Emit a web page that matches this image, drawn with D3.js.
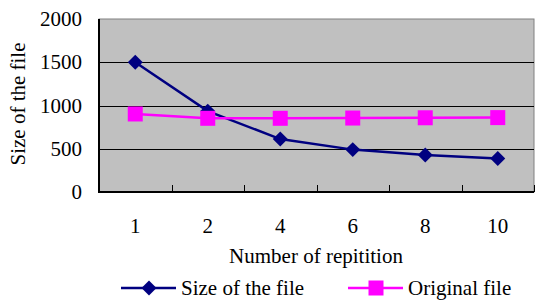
<!DOCTYPE html>
<html>
<head>
<meta charset="utf-8">
<script src="https://cdn.jsdelivr.net/npm/d3@7"></script>
</head>
<body style="margin:0; background:#fff">
<svg width="537" height="305"></svg>
<script>
var categories = ["1", "2", "4", "6", "8", "10"];
var sizeOfFile = [1500, 935, 612, 490, 427, 388];
var originalFile = [902, 852, 852, 855, 858, 860];
var yTicks = [0, 500, 1000, 1500, 2000];

var fontFamily = "Liberation Serif";
var fontSize = 21;
var plot = { left: 99, top: 19, right: 534, bottom: 192 };

var svg = d3.select("svg");

var x = d3.scaleBand()
    .domain(categories)
    .range([plot.left, plot.right]);

var y = d3.scaleLinear()
    .domain([0, 2000])
    .range([plot.bottom, plot.top]);

// plot background
svg.append("rect")
    .attr("x", plot.left)
    .attr("y", plot.top)
    .attr("width", plot.right - plot.left)
    .attr("height", plot.bottom - plot.top)
    .attr("fill", "#c0c0c0")
    .attr("stroke", "#808080")
    .attr("stroke-width", 1);

// gridlines
svg.selectAll(".grid")
    .data(yTicks.filter(d => d > 0 && d < 2000))
    .enter()
    .append("line")
        .attr("x1", plot.left)
        .attr("x2", plot.right)
        .attr("y1", d => Math.round(y(d)) + 0.5)
        .attr("y2", d => Math.round(y(d)) + 0.5)
        .attr("stroke", "#000")
        .attr("stroke-width", 1);

// y axis
var yAxis = svg.append("g")
    .attr("transform", `translate(${plot.left},0)`)
    .call(d3.axisLeft(y).tickValues(yTicks).tickFormat(d3.format("d")).tickSize(0).tickPadding(17));
yAxis.attr("font-family", fontFamily).attr("font-size", fontSize);
yAxis.select(".domain").remove();

// x axis with inward ticks at category boundaries
var xAxis = svg.append("g")
    .attr("transform", `translate(0,${plot.bottom})`)
    .call(d3.axisBottom(x).tickSize(0).tickPadding(26));
xAxis.attr("font-family", fontFamily).attr("font-size", fontSize);
xAxis.select(".domain").remove();

var boundaries = categories.slice(1).map(c => x(c)).concat([plot.right]);
svg.selectAll(".xtick")
    .data(boundaries)
    .enter()
    .append("line")
        .attr("x1", d => Math.round(d) + 0.5)
        .attr("x2", d => Math.round(d) + 0.5)
        .attr("y1", plot.bottom)
        .attr("y2", plot.bottom - 7)
        .attr("stroke", "#000")
        .attr("stroke-width", 1);

// axis lines
svg.append("line")
    .attr("x1", plot.left).attr("x2", plot.left)
    .attr("y1", plot.top).attr("y2", plot.bottom)
    .attr("stroke", "#000").attr("stroke-width", 2);
svg.append("line")
    .attr("x1", plot.left - 1).attr("x2", plot.right)
    .attr("y1", plot.bottom).attr("y2", plot.bottom)
    .attr("stroke", "#000").attr("stroke-width", 2);

var cx = d => x(d) + x.bandwidth() / 2;

var line = d3.line()
    .x((d, i) => cx(categories[i]))
    .y(d => y(d));

// Size of the file
svg.append("path")
    .datum(sizeOfFile)
    .attr("d", line)
    .attr("fill", "none")
    .attr("stroke", "#000080")
    .attr("stroke-width", 2.5);

// Original file
svg.append("path")
    .datum(originalFile)
    .attr("d", line)
    .attr("fill", "none")
    .attr("stroke", "#ff00ff")
    .attr("stroke-width", 2.5);

var diamond = d3.symbol().type(d3.symbolSquare).size(112);

svg.selectAll(".dmark")
    .data(sizeOfFile)
    .enter()
    .append("path")
        .attr("d", diamond)
        .attr("transform", (d, i) => `translate(${cx(categories[i])},${y(d)}) rotate(45)`)
        .attr("fill", "#000080");

svg.selectAll(".smark")
    .data(originalFile)
    .enter()
    .append("rect")
        .attr("x", (d, i) => cx(categories[i]) - 7.5)
        .attr("y", d => y(d) - 7.5)
        .attr("width", 15)
        .attr("height", 15)
        .attr("fill", "#ff00ff");

// axis titles
svg.append("text")
    .attr("x", 316)
    .attr("y", 263)
    .attr("text-anchor", "middle")
    .attr("font-family", fontFamily)
    .attr("font-size", fontSize)
    .text("Number of repitition");

svg.append("text")
    .attr("transform", "translate(25,104) rotate(-90)")
    .attr("text-anchor", "middle")
    .attr("font-family", fontFamily)
    .attr("font-size", fontSize)
    .text("Size of the file");

// legend
var legend = [
    { name: "Size of the file", color: "#000080", shape: "diamond", x0: 121 },
    { name: "Original file", color: "#ff00ff", shape: "square", x0: 348 }
];
var ly = 288;
legend.forEach(item => {
    var g = svg.append("g");
    g.append("line")
        .attr("x1", item.x0).attr("x2", item.x0 + 55)
        .attr("y1", ly).attr("y2", ly)
        .attr("stroke", item.color).attr("stroke-width", 2.5);
    if (item.shape === "diamond") {
        g.append("path")
            .attr("d", diamond)
            .attr("transform", `translate(${item.x0 + 28},${ly}) rotate(45)`)
            .attr("fill", item.color);
    } else {
        g.append("rect")
            .attr("x", item.x0 + 28 - 7.5).attr("y", ly - 7.5)
            .attr("width", 15).attr("height", 15)
            .attr("fill", item.color);
    }
    g.append("text")
        .attr("x", item.x0 + 60)
        .attr("y", ly + 7)
        .attr("font-family", fontFamily)
        .attr("font-size", fontSize)
        .text(item.name);
});
</script>
</body>
</html>
